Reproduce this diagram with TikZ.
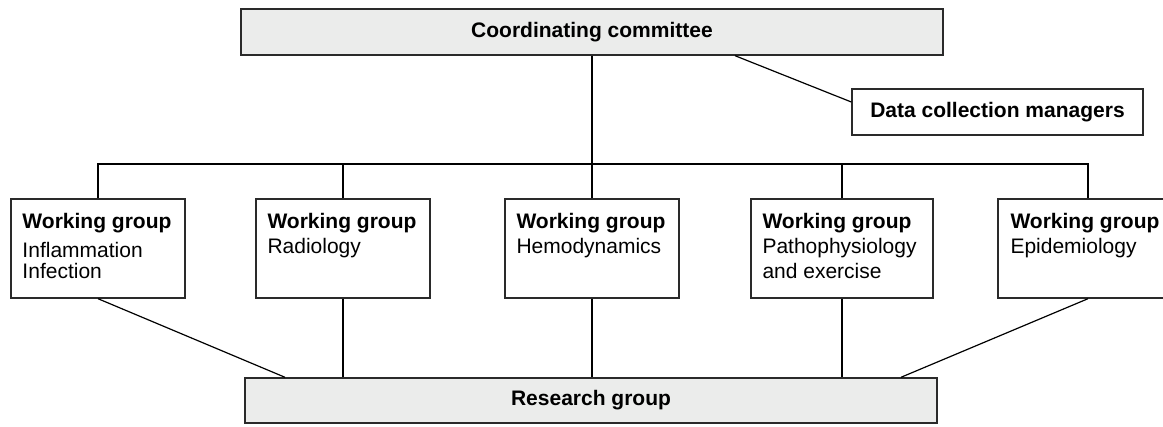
\documentclass[tikz,border=0pt]{standalone}
\usepackage{fontspec}
\setmainfont{Liberation Sans}
\usepackage{tikz}
\usetikzlibrary{calc}

\definecolor{boxgray}{HTML}{EBECEB}
\definecolor{edge}{HTML}{2A2A2A}

\begin{document}
\begin{tikzpicture}[x=1pt,y=-1pt,
        box/.style={draw=edge,line width=1.4pt,inner sep=0pt,
            font=\fontsize{21}{24}\selectfont\bfseries},
        greybox/.style={box,fill=boxgray},
        wgbox/.style={draw=edge,line width=1.4pt,inner sep=0pt,minimum height=99pt},
        wgtext/.style={anchor=north west,inner sep=0pt,align=left,
            font=\fontsize{21}{25}\selectfont},
        link/.style={draw=black,line width=1.2pt}]
        \path[use as bounding box] (0,0) rectangle (1163,427);
        \clip (0,0) rectangle (1163,427);

        % top line
        \node[greybox,minimum width=702pt,minimum height=46pt] (coord) at (592,32) {Coordinating committee};
        \node[box,fill=white,minimum width=291pt,minimum height=46pt] (dcm) at (997.5,112) {Data collection managers};
        \coordinate (bus) at (0,164);

        % working groups
        \node[wgbox,minimum width=174pt] (wg1) at (98,248.5) {};
        \node[wgbox,minimum width=174pt] (wg2) at (343,248.5) {};
        \node[wgbox,minimum width=174pt] (wg3) at (592,248.5) {};
        \node[wgbox,minimum width=182pt] (wg4) at (842,248.5) {};
        \node[wgbox,minimum width=180pt] (wg5) at (1088,248.5) {};

        \node[wgtext] (t1) at ([xshift=12pt,yshift=-15pt]wg1.north west) {\textbf{Working group}\\[4pt]Inflammation\\[-4pt]Infection};
        \node[wgtext] (t2) at ([xshift=12pt,yshift=-15pt]wg2.north west) {\textbf{Working group}\\Radiology};
        \node[wgtext] (t3) at ([xshift=12pt,yshift=-15pt]wg3.north west) {\textbf{Working group}\\Hemodynamics};
        \node[wgtext] (t4) at ([xshift=12pt,yshift=-15pt]wg4.north west) {\textbf{Working group}\\Pathophysiology\\and exercise};
        \node[wgtext] (t5) at ([xshift=13pt,yshift=-15pt]wg5.north west) {\textbf{Working group}\\Epidemiology};

        % bottom line
        \node[greybox,minimum width=692pt,minimum height=45pt] (research) at (591,400.5) {Research group};

        % links
        \draw[link] (coord.south) -- (wg3.north);
        \draw[link] ([xshift=143pt]coord.south) -- ([yshift=10pt]dcm.west);
        \draw[link] (wg1.north) |- (wg5.north |- bus) -- (wg5.north);
        \draw[link] (wg2.north) -- (wg2.north |- bus);
        \draw[link] (wg4.north) -- (wg4.north |- bus);

        \draw[link] (wg1.south) -- ([xshift=-306pt]research.north);
        \draw[link] (wg2.south) -- (wg2.south |- research.north);
        \draw[link] (wg3.south) -- (wg3.south |- research.north);
        \draw[link] (wg4.south) -- (wg4.south |- research.north);
        \draw[link] (wg5.south) -- ([xshift=310pt]research.north);
    \end{tikzpicture}
\end{document}
